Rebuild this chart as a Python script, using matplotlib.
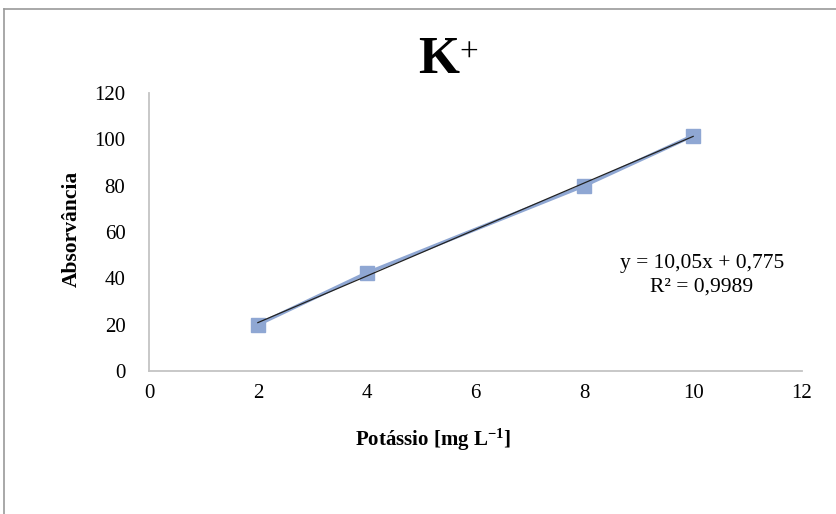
import matplotlib.pyplot as plt

# calibration points: potassium concentration vs absorbance
potassio = [2, 4, 8, 10]
absorvancia = [20.0, 42.3, 80.0, 101.6]

# linear trendline reported for the calibration
slope = 10.05
intercept = 0.775
r2 = 0.9989

x_ticks = [0, 2, 4, 6, 8, 10, 12]
y_ticks = [0, 20, 40, 60, 80, 100, 120]

plt.rcParams['font.family'] = ['Liberation Serif', 'DejaVu Serif']
plt.rcParams['mathtext.fontset'] = 'custom'
plt.rcParams['mathtext.rm'] = 'Liberation Serif'
plt.rcParams['mathtext.it'] = 'Liberation Serif:italic'
plt.rcParams['mathtext.bf'] = 'Liberation Serif:bold'

W, H = 836, 514
fig = plt.figure(figsize=(W / 100, H / 100), dpi=100)
ax = fig.add_axes([149 / W, 1 - 371 / H, (802 - 149) / W, (371 - 93) / H])

# outer chart frame (only top and left edges visible)
fig.add_artist(plt.Line2D([0.005, 1.0], [0.983, 0.983], transform=fig.transFigure,
                          color='#9a9a9a', lw=1.2))
fig.add_artist(plt.Line2D([0.005, 0.005], [0.0, 0.983], transform=fig.transFigure,
                          color='#9a9a9a', lw=1.2))

series_color = '#8fa7d3'
ax.plot(potassio, absorvancia, color=series_color, lw=2.5, marker='s',
        markersize=10.5, markerfacecolor=series_color, markeredgecolor=series_color,
        zorder=2)

# trendline over the data range
x0, x1 = min(potassio), max(potassio)
ax.plot([x0, x1], [slope * x0 + intercept, slope * x1 + intercept],
        color='#222222', lw=0.9, zorder=3)

ax.set_xlim(0, 12)
ax.set_ylim(0, 120)
ax.set_xticks(x_ticks)
ax.set_yticks(y_ticks)
ax.tick_params(length=0, labelsize=15, pad=9)
ax.tick_params(axis='y', pad=17)

for side in ('top', 'right'):
    ax.spines[side].set_visible(False)
for side in ('left', 'bottom'):
    ax.spines[side].set_color('#c4c4c4')
    ax.spines[side].set_linewidth(1.3)

eq = f"y = {slope:.2f}x + {intercept:.3f}".replace('.', ',')
r2_txt = f"R² = {r2:.4f}".replace('.', ',')
ax.text(10.16, 46.6, eq, ha='center', va='center', fontsize=15.5)
ax.text(10.16, 36.3, r2_txt, ha='center', va='center', fontsize=15.5)

# title: K with superscript plus
fig.text(439 / W, 1 - 60 / H, "K", ha='center', va='center', fontsize=38,
         fontweight='bold')
fig.text(469 / W, 1 - 53 / H, "+", ha='center', va='center', fontsize=24)

fig.text(433 / W, 1 - 440 / H, 'Potássio [mg L$^{\\mathbf{-1}}$]', ha='center',
         va='center', fontsize=15, fontweight='bold')
fig.text(72 / W, 1 - 229 / H, 'Absorvância', ha='center', va='center',
         rotation=90, fontsize=15.5, fontweight='bold')

fig.savefig('out.png', dpi=100)
